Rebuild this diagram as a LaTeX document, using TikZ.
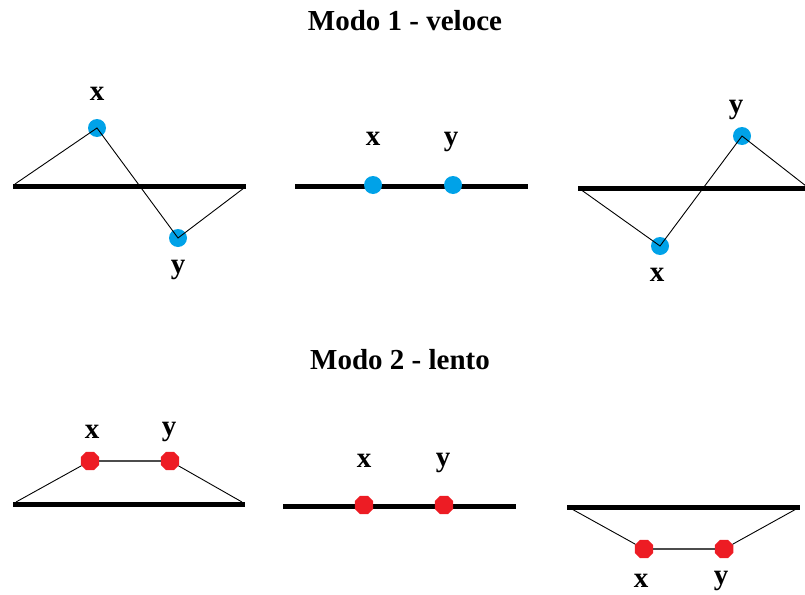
\documentclass[tikz,border=0pt]{standalone}
\usepackage{fontspec}
\setmainfont{Liberation Serif}
\usetikzlibrary{shapes.geometric}
\definecolor{dotblue}{RGB}{0,162,232}
\definecolor{dotred}{RGB}{237,28,36}
\begin{document}
\begin{tikzpicture}[x=1pt,y=-1pt,
 ground/.style={line width=5pt},
 link/.style={line width=0.9pt},
 rod/.style={line width=2pt, draw=black!70},
 bdot/.style={circle, fill=dotblue, minimum size=18pt, inner sep=0pt},
 rdot/.style={regular polygon, regular polygon sides=8, fill=dotred, minimum size=20pt, inner sep=0pt},
 lbl/.style={font=\fontsize{29}{30}\selectfont\bfseries, anchor=base, inner sep=0pt},
 ttl/.style={font=\fontsize{29}{30}\selectfont\bfseries, anchor=base, inner sep=0pt}]
\useasboundingbox (0,0) rectangle (805,594);

% titles
\node[ttl] (t1) at (405,31) {Modo 1 - veloce};
\node[ttl] (t2) at (400,369) {Modo 2 - lento};

% ---------- Panel 1 ----------
\coordinate (g1a) at (13,186); \coordinate (g1b) at (246,186);
\coordinate (s1a) at (15,184); \coordinate (s1b) at (244,188);
\draw[ground] (g1a) -- (g1b);
\node[bdot] (x1) at (97,128) {};
\node[bdot] (y1) at (178,238) {};
\draw[link] (s1a) -- (x1.center) -- (y1.center) -- (s1b);
\node[lbl] (lx1) at (97,100) {x};
\node[lbl] (ly1) at (178,273) {y};

% ---------- Panel 2 ----------
\coordinate (g2a) at (295,186); \coordinate (g2b) at (528,186);
\draw[ground] (g2a) -- (g2b);
\node[bdot] (x2) at (373,185) {};
\node[bdot] (y2) at (453,185) {};
\node[lbl] (lx2) at (373,145) {x};
\node[lbl] (ly2) at (451,145) {y};

% ---------- Panel 3 ----------
\coordinate (g3a) at (578,188); \coordinate (g3b) at (806,188);
\coordinate (s3a) at (580,189); \coordinate (s3b) at (806,186);
\draw[ground] (g3a) -- (g3b);
\node[bdot] (x3) at (660,246) {};
\node[bdot] (y3) at (742,136) {};
\draw[link] (s3a) -- (x3.center) -- (y3.center) -- (s3b);
\node[lbl] (lx3) at (657,281) {x};
\node[lbl] (ly3) at (736,113) {y};

% ---------- Panel 4 ----------
\coordinate (g4a) at (13,504); \coordinate (g4b) at (245,504);
\coordinate (s4a) at (16,502); \coordinate (s4b) at (242,502);
\draw[ground] (g4a) -- (g4b);
\node[rdot] (x4) at (90,461) {};
\node[rdot] (y4) at (170,461) {};
\draw[link] (s4a) -- (x4);
\draw[link] (y4) -- (s4b);
\draw[rod] (x4) -- (y4);
\node[lbl] (lx4) at (92,438) {x};
\node[lbl] (ly4) at (169,435) {y};

% ---------- Panel 5 ----------
\coordinate (g5a) at (283,506); \coordinate (g5b) at (516,506);
\draw[ground] (g5a) -- (g5b);
\node[rdot] (x5) at (364,505) {};
\node[rdot] (y5) at (444,505) {};
\node[lbl] (lx5) at (364,467) {x};
\node[lbl] (ly5) at (443,466) {y};

% ---------- Panel 6 ----------
\coordinate (g6a) at (567,507); \coordinate (g6b) at (800,507);
\coordinate (s6a) at (570,508); \coordinate (s6b) at (798,508);
\draw[ground] (g6a) -- (g6b);
\node[rdot] (x6) at (644,549) {};
\node[rdot] (y6) at (724,549) {};
\draw[link] (s6a) -- (x6);
\draw[link] (y6) -- (s6b);
\draw[rod] (x6) -- (y6);
\node[lbl] (lx6) at (641,587) {x};
\node[lbl] (ly6) at (721,584) {y};
\end{tikzpicture}
\end{document}
